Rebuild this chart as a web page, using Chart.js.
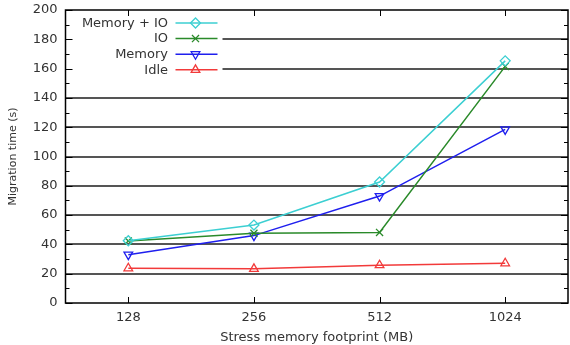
<!DOCTYPE html>
<html>
<head>
<meta charset="utf-8">
<script src="https://cdn.jsdelivr.net/npm/chart.js@4/dist/chart.umd.min.js"></script>
<style>
html,body{margin:0;padding:0;background:#fff;}
#wrap{width:570px;height:345px;position:relative;}
</style>
</head>
<body>
<div id="wrap"><canvas id="c" width="570" height="345"></canvas></div>
<script>
const categories = ['128', '256', '512', '1024'];
const memoryIO = [42.5, 53.2, 82.6, 165.3];
const io = [42.3, 47.6, 48.2, 161.5];
const memory = [33, 46, 73, 118.5];
const idle = [23.7, 23.3, 25.8, 27.1];
const seriesLabels = ['Memory + IO', 'IO', 'Memory', 'Idle'];
const xTitle = 'Stress memory footprint (MB)';
const yTitle = 'Migration time (s)';

const FONT = "'DejaVu Sans', sans-serif";
const TXT = '#333';

function mk(label, data, color, style, rot) {
  return {
    label, data, borderColor: color, backgroundColor: color,
    borderWidth: 1.5, pointStyle: style, pointRotation: rot || 0,
    pointRadius: 5, pointHoverRadius: 5, pointBorderWidth: 1.3,
    pointBackgroundColor: 'rgba(0,0,0,0)', pointBorderColor: color,
    fill: false, tension: 0
  };
}

const datasets = [
  mk(seriesLabels[0], memoryIO, '#3ccfd2', 'rectRot'),
  mk(seriesLabels[1], io, '#2a8a2a', 'crossRot'),
  mk(seriesLabels[2], memory, '#1f1fee', 'triangle', 180),
  mk(seriesLabels[3], idle, '#f23a3a', 'triangle'),
];

function drawMarker(ctx, style, rot, r, x, y) {
  if (Chart.helpers && Chart.helpers.drawPoint) {
    Chart.helpers.drawPoint(ctx, {pointStyle: style, rotation: rot, radius: r, borderWidth: 1.3}, x, y);
  }
}

const legendPlugin = {
  id: 'gpLegend',
  afterDatasetsDraw(chart) {
    const ctx = chart.ctx, a = chart.chartArea;
    ctx.save();
    ctx.fillStyle = '#fff';
    ctx.fillRect(a.left, a.top + 4, 157, 62);
    ctx.font = '13px ' + FONT;
    ctx.textAlign = 'right';
    ctx.textBaseline = 'middle';
    chart.data.datasets.forEach((ds, i) => {
      const y = a.top + 13 + i * 15.6;
      ctx.fillStyle = TXT;
      ctx.fillText(ds.label, a.left + 102.5, y + 0.5);
      ctx.strokeStyle = ds.borderColor;
      ctx.lineWidth = 1.5;
      ctx.beginPath();
      ctx.moveTo(a.left + 110, y);
      ctx.lineTo(a.left + 152, y);
      ctx.stroke();
      ctx.fillStyle = 'rgba(0,0,0,0)';
      ctx.lineWidth = 1.3;
      drawMarker(ctx, ds.pointStyle, ds.pointRotation, 5, a.left + 130, y);
    });
    ctx.restore();
  },
  afterDraw(chart) {
    const ctx = chart.ctx, a = chart.chartArea;
    const ys = chart.scales.y, xs = chart.scales.x;
    ctx.save();
    ctx.strokeStyle = '#000';
    ctx.lineWidth = 1;
    ctx.beginPath();
    for (let v = 0; v <= 200; v += 10) {
      const py = Math.round(ys.getPixelForValue(v)) + 0.5;
      const len = v % 20 === 0 ? 7 : 4;
      ctx.moveTo(a.left, py); ctx.lineTo(a.left + len, py);
      ctx.moveTo(a.right, py); ctx.lineTo(a.right - len, py);
    }
    categories.forEach((c, i) => {
      const px = Math.round(xs.getPixelForValue(i)) + 0.5;
      ctx.moveTo(px, a.bottom); ctx.lineTo(px, a.bottom - 6);
      ctx.moveTo(px, a.top); ctx.lineTo(px, a.top + 6);
    });
    ctx.stroke();
    ctx.lineWidth = 1.5;
    ctx.strokeRect(a.left, a.top, a.right - a.left, a.bottom - a.top);
    ctx.restore();
  }
};

new Chart(document.getElementById('c'), {
  type: 'line',
  data: { labels: categories, datasets },
  plugins: [legendPlugin],
  options: {
    responsive: false,
    animation: false,
    devicePixelRatio: 1,
    layout: { autoPadding: false, padding: { top: 10, right: 2, left: 0, bottom: 0 } },
    plugins: { legend: { display: false }, tooltip: { enabled: false } },
    scales: {
      x: {
        type: 'category',
        offset: true,
        grid: { display: false, drawTicks: false },
        border: { display: false },
        ticks: { color: TXT, font: { family: FONT, size: 13 }, padding: 7, maxRotation: 0 },
        title: { display: true, text: xTitle, color: TXT, font: { family: FONT, size: 13 }, padding: { top: -5, bottom: 0 } },
        afterFit(s) { s.height = 42; s.paddingLeft = 0; s.paddingRight = 0; }
      },
      y: {
        min: 0, max: 200,
        ticks: { stepSize: 20, color: TXT, font: { family: FONT, size: 13 }, padding: 8 },
        grid: {
          drawTicks: false,
          lineWidth: 2,
          color: (c) => (c.tick && (c.tick.value === 0 || c.tick.value === 200)) ? 'rgba(0,0,0,0)' : '#555'
        },
        border: { display: false },
        title: { display: true, text: yTitle, color: TXT, font: { family: FONT, size: 11 }, padding: { top: 7, bottom: 0 } },
        afterFit(s) { s.width = 65.5; s.paddingTop = 0; s.paddingBottom = 0; }
      }
    }
  }
});
</script>
</body>
</html>
